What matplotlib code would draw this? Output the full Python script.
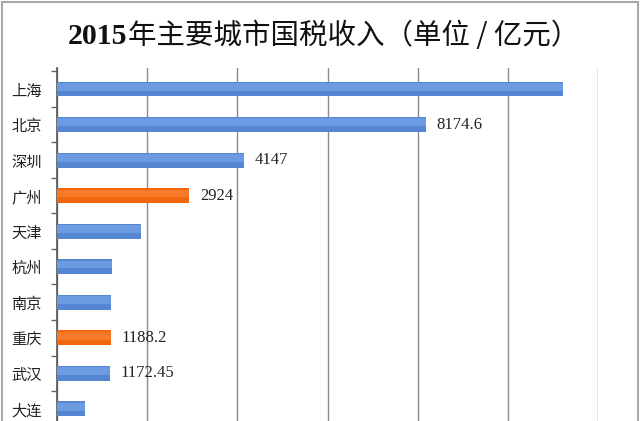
import numpy as np
import matplotlib.pyplot as plt
from matplotlib.patches import Rectangle

cities = ['上海', '北京', '深圳', '广州', '天津', '杭州', '南京', '重庆', '武汉', '大连']
revenue = [11220, 8174.6, 4147, 2924, 1860, 1210, 1200, 1188.2, 1172.45, 620]
value_labels = ['', '8174.6', '4147', '2924', '', '', '', '1188.2', '1172.45', '']
highlight = ['广州', '重庆']

title_year = '2015'
title_rest = '年主要城市国税收入（单位 / 亿元）'
xticks = [0, 2000, 4000, 6000, 8000, 10000, 12000]

blue = '#5586d3'
blue_light = '#6c9be2'
orange = '#f2660c'
orange_light = '#f7792a'

cjk = ['Noto Sans CJK SC', 'DejaVu Sans']
serif = ['Liberation Serif', 'Noto Sans CJK SC']

fig = plt.figure(figsize=(6.4, 4.21), dpi=100)
ax = fig.add_axes([57 / 640, 0, (598 - 57) / 640, 1 - 68 / 421])

y = np.arange(len(cities))
colors = [orange if c in highlight else blue for c in cities]
lights = [orange_light if c in highlight else blue_light for c in cities]

ax.barh(y, revenue, height=0.42, color=colors, zorder=3)
# softer, lighter upper half of each bar (gradient look)
ax.barh(y - 0.06, revenue, height=0.22, color=lights, zorder=4, linewidth=0)

for yi, v, lab in zip(y, revenue, value_labels):
    if lab:
        ax.annotate(lab, (v, yi), xytext=(8, 0), textcoords='offset points',
                    va='center', ha='left', fontsize=12, family=serif,
                    color='#222222')

ax.set_xlim(0, 12000)
ax.set_ylim(9.34, -0.59)
ax.set_xticks(xticks)
ax.xaxis.grid(True, color='#8c8c8c', linewidth=1.0, zorder=0)
ax.tick_params(axis='x', length=0, labelbottom=False)

ax.set_yticks(y)
ax.set_yticklabels(cities, family=cjk, fontsize=11, color='#222222')
ax.set_yticks(y - 0.5, minor=True)
ax.tick_params(axis='y', which='major', length=0, pad=11)
ax.tick_params(axis='y', which='minor', length=4, color='#666666', width=1)

for s in ['top', 'right', 'bottom']:
    ax.spines[s].set_visible(False)
ax.spines['left'].set_color('#555555')
ax.spines['left'].set_linewidth(1.2)

# title: bold serif year, regular CJK remainder
t1 = fig.text(68 / 640, 1 - 36 / 421, title_year, ha='left', va='center',
              fontsize=21.5, fontweight='bold', family=serif, color='#111111')
fig.canvas.draw()
bb = t1.get_window_extent()
fig.text(bb.x1 / fig.bbox.width, 1 - 36 / 421, title_rest, ha='left', va='center',
         fontsize=20.5, fontweight='medium', family=cjk, color='#111111')

fig.patches.append(Rectangle((0.003, -0.01), 0.994, 1.006, transform=fig.transFigure,
                             fill=False, edgecolor='#aaaaaa', linewidth=1.5))

fig.savefig('out.png', dpi=100)
